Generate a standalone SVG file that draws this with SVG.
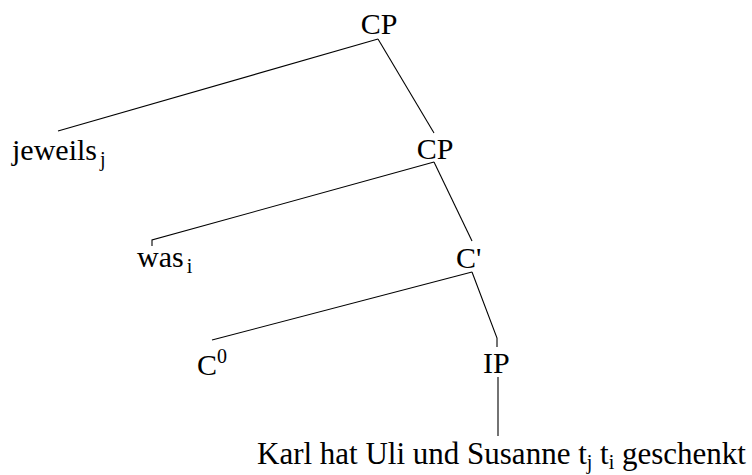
<svg xmlns="http://www.w3.org/2000/svg" width="752" height="475" viewBox="0 0 752 475">
<style>
text{font-family:"Liberation Serif","Times New Roman",serif;font-size:30px;fill:#000}
.s{font-size:20px}
.t{font-size:31px}
.e line,.e polyline{stroke:#000;stroke-width:1.1;fill:none}
</style>
<rect width="752" height="475" fill="#fff"/>
<g class="e" id="edges">
<line x1="378" y1="39" x2="58" y2="131"/>
<line x1="378" y1="39" x2="434" y2="133"/>
<polyline points="434,162 152,240 152,246"/>
<line x1="434" y1="162" x2="472" y2="241"/>
<line x1="472" y1="272" x2="212" y2="340"/>
<polyline points="472,272 497,338 497,347"/>
<line x1="498" y1="377" x2="498" y2="436"/>
</g>
<g id="cp1"><text x="379" y="34" text-anchor="middle">CP</text></g>
<g id="jeweils"><text x="12" y="160">jeweils<tspan class="s" dx="3" dy="6">j</tspan></text></g>
<g id="cp2"><text x="435" y="159" text-anchor="middle">CP</text></g>
<g id="was"><text x="137" y="267">was<tspan class="s" dx="3" dy="6">i</tspan></text></g>
<g id="cbar"><text x="456" y="268">C'</text></g>
<g id="c0"><text x="197" y="375">C<tspan class="s" dy="-12">0</tspan></text></g>
<g id="ip"><text x="483" y="373">IP</text></g>
<g id="term"><text class="t" x="257" y="464">Karl hat Uli und Susanne t<tspan class="s" dy="5">j</tspan><tspan dy="-5"> t</tspan><tspan class="s" dy="5">i</tspan><tspan dy="-5"> geschenkt</tspan></text></g>
</svg>
